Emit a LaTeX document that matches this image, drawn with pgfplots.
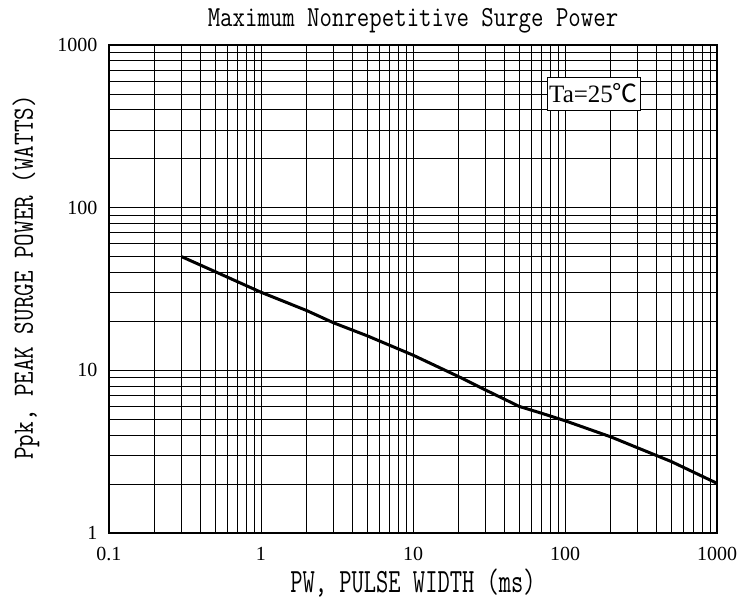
\documentclass[border=0pt]{standalone}
\usepackage{fontspec}
\setmainfont{Latin Modern Mono}
\newfontfamily\lab{Latin Modern Mono}[FakeStretch=0.83]
\newfontfamily\labx{Latin Modern Mono}[FakeStretch=0.7]
\newfontfamily\numfont{Liberation Serif}
\newfontfamily\cjk{Noto Sans CJK SC}
\usepackage{pgfplots}
\pgfplotsset{compat=1.18}
\begin{document}
\begin{tikzpicture}
\begin{axis}[
 name=ax,
 scale only axis, width=608pt, height=488pt,
 xmode=log, ymode=log, xmin=0.1, xmax=1000, ymin=1, ymax=1000,
 grid=both,
 major grid style={black, line width=0.8pt},
 minor grid style={black, line width=0.8pt},
 axis line style={line width=1.6pt},
 tick style={draw=none},
 xtick={0.1,1,10,100,1000}, xticklabels={0.1,1,10,100,1000},
 ytick={1,10,100,1000}, yticklabels={1,10,100,1000},
 tick label style={font=\numfont\fontsize{20}{20}\selectfont},
 xticklabel style={yshift=-11pt},
 yticklabel style={xshift=-8pt},
 title={Maximum Nonrepetitive Surge Power},
 title style={font=\lab\fontsize{29.1}{29}\selectfont, at={(axis description cs:0.5,1)}, anchor=base, inner sep=0pt, yshift=12pt},
 xlabel={PW, PULSE WIDTH (ms)},
 xlabel style={font=\labx\fontsize{34}{34}\selectfont, at={(axis description cs:0.5,0)}, anchor=base, inner sep=0pt, yshift=-60pt},
 ylabel={Ppk, PEAK SURGE POWER (WATTS)},
 ylabel style={font=\lab\fontsize{29.4}{29}\selectfont, at={(axis description cs:-0.125,0.5236)}, rotate=0, anchor=base, inner sep=0pt},
 clip=false,
]
\addplot[black, line width=3pt] coordinates {
 (0.3,50) (0.5,40.4) (1,30.2) (2,23.3) (3,19.6) (5,16.3) (10,12.4) (20,9.14)
 (30,7.57) (50,6.0) (70,5.45) (100,4.9) (200,3.9) (500,2.75) (1000,2.02)
};
\node[draw=black, fill=white, line width=0.8pt, inner xsep=2pt, minimum height=33pt, font=\numfont\fontsize{25}{25}\selectfont]
 at (axis description cs:0.797,0.9006) {Ta=25{\cjk ℃}};
\end{axis}
\pgfresetboundingbox
\path[use as bounding box] ([xshift=-109pt,yshift=-68pt]ax.south west) rectangle ([xshift=38pt,yshift=45pt]ax.north east);
\end{tikzpicture}
\end{document}
